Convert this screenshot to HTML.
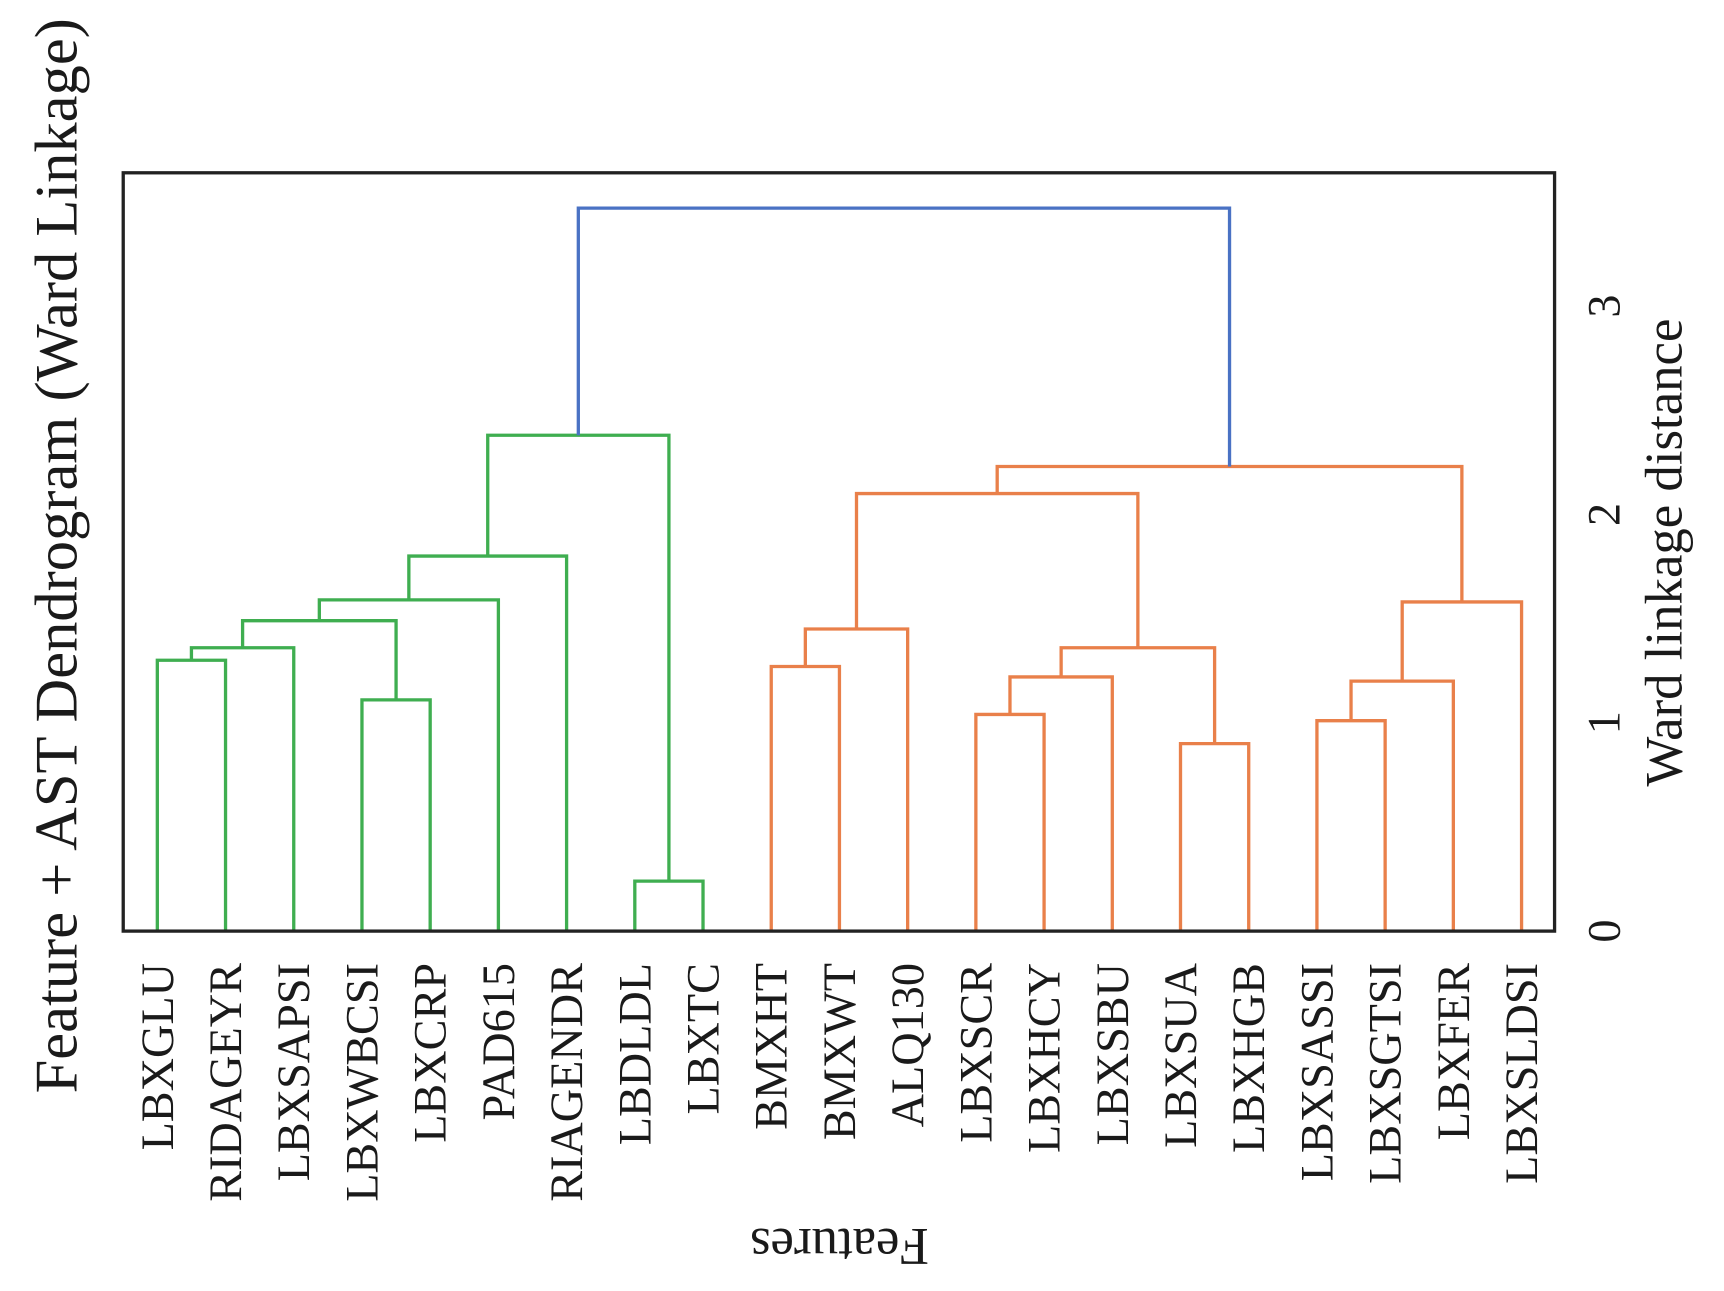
<!DOCTYPE html>
<html><head><meta charset="utf-8"><style>
html,body{margin:0;padding:0;background:#fff;}
svg{display:block;}
text{font-family:"Liberation Serif",serif;fill:#1a1a1a;}
</style></head><body>
<svg id="chart" width="1724" height="1291" viewBox="0 0 1567 1173" preserveAspectRatio="none" xmlns="http://www.w3.org/2000/svg">
<text transform="translate(52,505) rotate(-90)" text-anchor="middle" dominant-baseline="central" font-size="55">Feature + AST Dendrogram (Ward Linkage)</text>
<text transform="translate(1513,502) rotate(-90)" text-anchor="middle" dominant-baseline="central" font-size="48">Ward linkage distance</text>
<text transform="translate(763,1132) rotate(180)" text-anchor="middle" dominant-baseline="central" font-size="48">Features</text>
<g id="marks"></g>
<rect x="112" y="157" width="1301" height="689" fill="none" stroke="#222" stroke-width="3"/>
</svg>
<script>
const leaves=["LBXGLU","RIDAGEYR","LBXSAPSI","LBXWBCSI","LBXCRP","PAD615","RIAGENDR","LBDLDL","LBXTC","BMXHT","BMXWT","ALQ130","LBXSCR","LBXHCY","LBXSBU","LBXSUA","LBXHGB","LBXSASSI","LBXSGTSI","LBXFER","LBXSLDSI"];
const linkLeft=[0,21,3,22,24,25,7,26,9,29,12,31,15,32,30,17,36,37,35,28];
const linkRight=[1,2,4,23,5,6,8,27,10,11,13,14,16,33,34,18,19,20,38,39];
const linkHeight=[1.30,1.36,1.11,1.49,1.59,1.80,0.24,2.38,1.27,1.45,1.04,1.22,0.90,1.36,2.10,1.01,1.20,1.58,2.23,3.47];
const linkColor=["g","g","g","g","g","g","g","g","o","o","o","o","o","o","o","o","o","o","o","b"];
const yTicks=[0,1,2,3];
const colors={g:"#3fae50",o:"#e9804a",b:"#4a72c4"};
const NS="http://www.w3.org/2000/svg";
const svg=document.getElementById('chart');const g=document.getElementById('marks');
const xL=i=>143+62*i;
const yS=v=>846-189.3*v;
const pos=[],hgt=[];
leaves.forEach((n,i)=>{pos[i]=xL(i);hgt[i]=0;
 const t=document.createElementNS(NS,'text');
 
 
 t.setAttribute('transform',`translate(${xL(i)},875) rotate(-90)`);
 t.setAttribute('text-anchor','end');t.setAttribute('dominant-baseline','central');t.setAttribute('font-size','42');
 t.textContent=n;svg.appendChild(t);});
linkLeft.forEach((a,k)=>{const b=linkRight[k];const h=linkHeight[k];const id=leaves.length+k;
 const xa=pos[a],xb=pos[b];pos[id]=(xa+xb)/2;hgt[id]=h;
 const p=document.createElementNS(NS,'path');
 
 
 p.setAttribute('d',`M${xa},${yS(hgt[a])}V${yS(h)}H${xb}V${yS(hgt[b])}`);
 p.setAttribute('fill','none');p.setAttribute('stroke',colors[linkColor[k]]);p.setAttribute('stroke-width','3');
 g.appendChild(p);});
yTicks.forEach(v=>{const t=document.createElementNS(NS,'text');
 
 
 t.setAttribute('transform',`translate(1458,${yS(v)}) rotate(-90)`);
 t.setAttribute('text-anchor','middle');t.setAttribute('dominant-baseline','central');t.setAttribute('font-size','42');
 t.textContent=v;svg.appendChild(t);});
</script>
</body></html>
